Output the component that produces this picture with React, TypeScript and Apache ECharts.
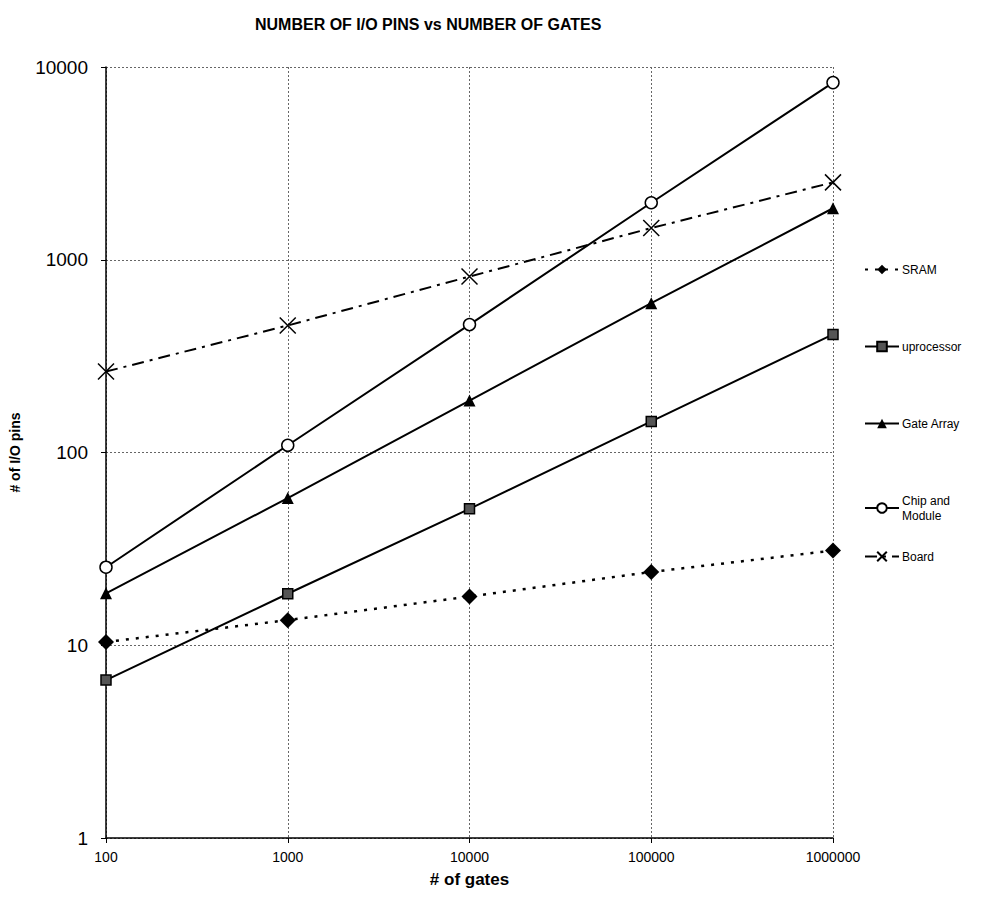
import React, { useEffect, useRef } from "react";
import * as echarts from "echarts";

const gates = ["100", "1000", "10000", "100000", "1000000"];
const yTicks = [1, 10, 100, 1000, 10000];
const sram = [10.4, 13.5, 17.9, 24, 31];
const uprocessor = [6.6, 18.5, 51, 145, 410];
const gateArray = [18.6, 58, 186, 595, 1850];
const chipModule = [25.4, 109, 461, 1975, 8300];
const board = [263, 456, 818, 1460, 2520];

const FONT = "Liberation Sans, Arial, sans-serif";

export default function App() {
  const ref = useRef<HTMLDivElement>(null);
  useEffect(() => {
    if (!ref.current) return;
    const chart = echarts.init(ref.current, undefined, { renderer: "svg" });
    const xSym = "path://M0,0L10,10M10,0L0,10";
    const legendBase = {
      orient: "vertical",
      left: 864,
      itemWidth: 34,
      itemHeight: 12,
      padding: 0,
      formatter: (n: string) => (n === "Chip and Module" ? "Chip and\nModule" : n),
      textStyle: { fontFamily: FONT, fontSize: 12, color: "#000", lineHeight: 15, padding: [0, 0, 0, -2] },
    };
    chart.setOption({
      animation: false,
      backgroundColor: "#ffffff",
      textStyle: { fontFamily: FONT },
      title: {
        text: "NUMBER OF I/O PINS vs NUMBER OF GATES",
        left: 250,
        top: 11,
        textStyle: { fontFamily: FONT, fontSize: 16, fontWeight: "bold", color: "#000" },
      },
      grid: { left: 105, top: 67, right: 150, bottom: 74, containLabel: false },
      legend: [
        {
          ...legendBase,
          top: 262,
          itemGap: 62,
          data: ["SRAM", "uprocessor", "Gate Array", "Chip and Module"],
        },
        {
          ...legendBase,
          top: 549,
          data: ["Board"],
        },
      ],
      xAxis: {
        type: "category",
        data: gates,
        boundaryGap: false,
        name: "# of gates",
        nameLocation: "middle",
        nameGap: 33,
        nameTextStyle: { fontFamily: FONT, fontSize: 17, fontWeight: "bold", color: "#000" },
        axisLine: { lineStyle: { color: "#000", width: 1.5 } },
        axisTick: { show: true, length: 5, alignWithLabel: true, lineStyle: { color: "#000" } },
        axisLabel: { fontFamily: FONT, fontSize: 14, color: "#000", margin: 12 },
        splitLine: { show: true, lineStyle: { color: "#666", type: [2, 2], width: 1 } },
      },
      yAxis: {
        type: "log",
        logBase: 10,
        min: yTicks[0],
        max: yTicks[yTicks.length - 1],
        name: "# of I/O pins",
        nameLocation: "middle",
        nameGap: 84,
        nameTextStyle: { fontFamily: FONT, fontSize: 14, fontWeight: "bold", color: "#000" },
        axisLine: { show: true, lineStyle: { color: "#000", width: 1.5 } },
        axisTick: { show: true, length: 5, lineStyle: { color: "#000" } },
        axisLabel: {
          fontFamily: FONT,
          fontSize: 19,
          color: "#000",
          margin: 18,
          formatter: (v: number) => String(Math.round(v)),
        },
        splitLine: { show: true, lineStyle: { color: "#666", type: [2, 2], width: 1 } },
        minorTick: { show: false },
      },
      series: [
        {
          name: "SRAM",
          type: "line",
          data: sram,
          symbol: "diamond",
          symbolSize: 16,
          itemStyle: { color: "#000" },
          lineStyle: { color: "#000", width: 2.5, type: [3, 7] },
        },
        {
          name: "uprocessor",
          type: "line",
          data: uprocessor,
          symbol: "rect",
          symbolSize: 10,
          itemStyle: { color: "#555", borderColor: "#000", borderWidth: 1.5 },
          lineStyle: { color: "#000", width: 2 },
        },
        {
          name: "Gate Array",
          type: "line",
          data: gateArray,
          symbol: "triangle",
          symbolSize: 12,
          itemStyle: { color: "#000" },
          lineStyle: { color: "#000", width: 2 },
        },
        {
          name: "Chip and Module",
          type: "line",
          data: chipModule,
          symbol: "circle",
          symbolSize: 12,
          itemStyle: { color: "#fff", borderColor: "#000", borderWidth: 1.5 },
          lineStyle: { color: "#000", width: 2 },
        },
        {
          name: "Board",
          type: "line",
          data: board,
          symbol: xSym,
          symbolSize: 16,
          itemStyle: { color: "none", borderColor: "#000", borderWidth: 1.5 },
          lineStyle: { color: "#000", width: 2, type: [12, 6, 3, 6] },
        },
      ],
    });
    return () => chart.dispose();
  }, []);
  return <div ref={ref} style={{ width: 983, height: 912, margin: -8 }} />;
}
